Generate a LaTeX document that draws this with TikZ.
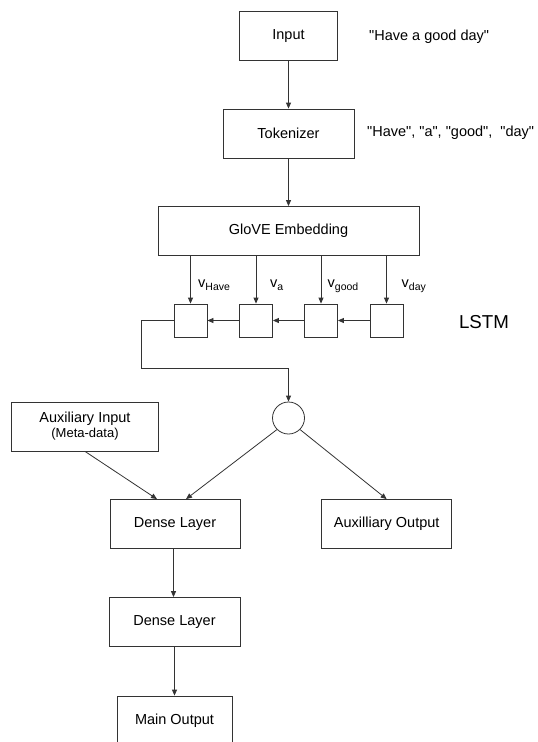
\documentclass[tikz,border=0pt]{standalone}
\usepackage{fontspec}
\setmainfont{Liberation Sans}[Ligatures=TeXOff]
\usetikzlibrary{arrows.meta}
\newcommand{\vsub}[1]{v\raisebox{-3.3pt}{\fontsize{10.5}{12}\selectfont #1}}

\begin{document}
\begin{tikzpicture}[x=1pt, y=-1pt,
    box/.style={draw=black!80, line width=0.8pt, rectangle, minimum height=49pt, inner sep=0pt, font=\fontsize{14.5}{17}\selectfont},
    cell/.style={draw=black!80, line width=0.8pt, rectangle, minimum width=33pt, minimum height=33pt, inner sep=0pt},
    arr/.style={draw=black!80, line width=0.8pt, -{Triangle[length=6pt,width=5pt]}},
    lbl/.style={font=\fontsize{14.5}{17}\selectfont, inner sep=0pt}]
    \useasboundingbox (0,0) rectangle (538,742);
    \clip (0,0) rectangle (538,742);

    % Text pipeline
    \node[box, minimum width=98pt] (input) at (288.5,36) {Input};
    \node[box, minimum width=131pt] (tokenizer) at (288.5,133.5) {Tokenizer};
    \node[box, minimum width=261pt] (glove) at (288.5,231) {GloVE Embedding};
    \node[lbl, anchor=west] (input-text) at (369,37) {"Have a good day"};
    \node[lbl, anchor=west] (token-text) at (367,133) {"Have", "a", "good",\ \ "day"};

    % LSTM cells
    \node[cell] (cell-1) at (190.5,320.5) {};
    \node[cell] (cell-2) at (256,320.5) {};
    \node[cell] (cell-3) at (321,320.5) {};
    \node[cell] (cell-4) at (386.5,320.5) {};
    \node[lbl, anchor=base west] (vec-1) at (198,287) {\vsub{Have}};
    \node[lbl, anchor=base west] (vec-2) at (270,287) {\vsub{a}};
    \node[lbl, anchor=base west] (vec-3) at (327.5,287) {\vsub{good}};
    \node[lbl, anchor=base west] (vec-4) at (401.5,287) {\vsub{day}};
    \node[lbl, font=\fontsize{18.7}{22}\selectfont] (lstm) at (484,322) {LSTM};

    % Merge and heads
    \node[draw=black!80, line width=0.8pt, circle, minimum size=32pt, inner sep=0pt] (merge) at (288.5,418) {};
    \node[box, minimum width=147pt, align=center, font=\fontsize{14.5}{15}\selectfont] (aux-input) at (85,426.5)
        {Auxiliary Input\\{\fontsize{13}{15}\selectfont (Meta-data)}};
    \node[box, minimum width=130pt] (dense-1) at (175,524) {Dense Layer};
    \node[box, minimum width=130pt] (aux-output) at (386.7,524) {Auxilliary Output};
    \node[box, minimum width=131pt] (dense-2) at (174.5,622) {Dense Layer};
    \node[box, minimum width=115pt] (main-output) at (174.5,720.5) {Main Output};

    % Connectors
    \draw[arr] (input) -- (tokenizer);
    \draw[arr] (tokenizer) -- (glove);
    \foreach \i in {1,...,4}
        \draw[arr] (cell-\i |- glove.south) -- (cell-\i.north);
    \draw[arr] (cell-4) -- (cell-3);
    \draw[arr] (cell-3) -- (cell-2);
    \draw[arr] (cell-2) -- (cell-1);
    \draw[arr] (cell-1.west) -- ++(-32,0) -- ++(0,48) -| (merge.north);
    \draw[arr] (aux-input.south) -- ([xshift=-18pt]dense-1.north);
    \draw[arr] (merge.225) -- ([xshift=11pt]dense-1.north);
    \draw[arr] (merge.-45) -- (aux-output.north);
    \draw[arr] ([xshift=-1.5pt]dense-1.south) -- ([xshift=-1.5pt]dense-1.south |- dense-2.north);
    \draw[arr] (dense-2) -- (main-output);

\end{tikzpicture}
\end{document}
